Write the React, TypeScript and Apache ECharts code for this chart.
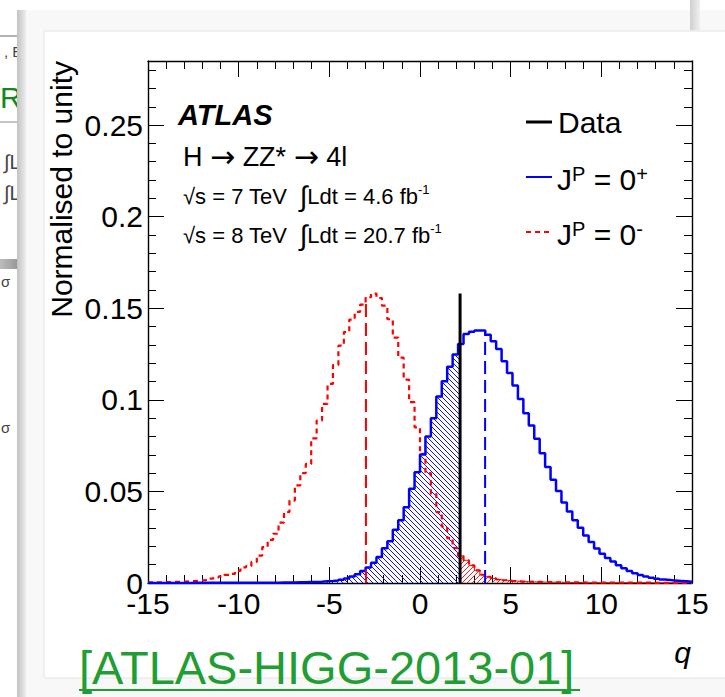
import React, { useEffect, useRef } from 'react';
import * as echarts from 'echarts';

// ---- binning (100 bins of width 0.3 from -15 to 15) ----
const LOW_EDGE = -15;
const HIGH_EDGE = 15;
const BIN_WIDTH = 0.3;

// ---- histogram contents (normalised to unity) ----
const spinPlusValues = [
  0, 0, 0, 0, 0, 0, 0, 0, 0.0001, 0.0001,
  0.0001, 0.0001, 0.0001, 0.0001, 0.0001, 0.0001, 0.0001, 0.0001, 0.0001, 0.0001,
  0.0001, 0.0002, 0.0002, 0.0002, 0.0003, 0.0003, 0.0003, 0.0004, 0.0004, 0.0005,
  0.0006, 0.0007, 0.0009, 0.0011, 0.0014, 0.0018, 0.0025, 0.0035, 0.0048, 0.0065,
  0.0085, 0.0110, 0.0142, 0.0190, 0.0228, 0.0291, 0.0342, 0.0414, 0.0514, 0.0605,
  0.0702, 0.0800, 0.0900, 0.1018, 0.1101, 0.1181, 0.1247, 0.1305, 0.1360, 0.1372,
  0.1378, 0.1378, 0.1356, 0.1320, 0.1278, 0.1211, 0.1147, 0.1078, 0.1005, 0.0927,
  0.0860, 0.0787, 0.0709, 0.0633, 0.0564, 0.0502, 0.0440, 0.0391, 0.0342, 0.0302,
  0.0260, 0.0224, 0.0188, 0.0160, 0.0136, 0.0118, 0.0097, 0.0080, 0.0065, 0.0053,
  0.0043, 0.0035, 0.0028, 0.0023, 0.0019, 0.0016, 0.0013, 0.0011, 0.0009, 0.0007,
];

const spinMinusValues = [
  0.0003, 0.0003, 0.0004, 0.0005, 0.0006, 0.0007, 0.0008, 0.0010, 0.0012, 0.0014,
  0.0017, 0.0024, 0.0030, 0.0036, 0.0044, 0.0050, 0.0066, 0.0085, 0.0092, 0.0115,
  0.0150, 0.0196, 0.0235, 0.0269, 0.0330, 0.0387, 0.0450, 0.0533, 0.0600, 0.0650,
  0.0790, 0.0887, 0.0978, 0.1087, 0.1190, 0.1296, 0.1370, 0.1438, 0.1480, 0.1520,
  0.1560, 0.1580, 0.1556, 0.1514, 0.1440, 0.1340, 0.1230, 0.1110, 0.0987, 0.0850,
  0.0705, 0.0600, 0.0487, 0.0387, 0.0308, 0.0245, 0.0190, 0.0148, 0.0124, 0.0096,
  0.0069, 0.0045, 0.0034, 0.0025, 0.0019, 0.0015, 0.0012, 0.0010, 0.0008, 0.0007,
  0.0006, 0.0006, 0.0005, 0.0005, 0.0004, 0.0004, 0.0003, 0.0003, 0.0003, 0.0003,
  0.0002, 0.0002, 0.0002, 0.0002, 0.0002, 0.0002, 0.0002, 0.0002, 0.0002, 0.0002,
  0.0002, 0.0002, 0.0001, 0.0001, 0.0001, 0.0001, 0.0001, 0.0001, 0.0001, 0.0001,
];

// observed value and medians of the two hypotheses
const DATA_Q = [2.21];
const DATA_HEIGHT = [0.158];
const MEDIAN_PLUS = [3.59];
const MEDIAN_PLUS_HEIGHT = [0.136];
const MEDIAN_MINUS = [-2.98];
const MEDIAN_MINUS_HEIGHT = [0.156];

const X_RANGE = [-15, 15];
const Y_RANGE = [0, 0.285];

const FONT = '"Liberation Sans", Arial, Helvetica, sans-serif';
const SYMBOL_FONT = '"DejaVu Sans", "Liberation Sans", sans-serif';

const edges = spinPlusValues.map((_, k) => +(LOW_EDGE + k * BIN_WIDTH).toFixed(3));

function histPoints(vals: number[]) {
  const pts: number[][] = vals.map((v, k) => [edges[k], v]);
  pts.push([HIGH_EDGE, vals[vals.length - 1]]);
  return pts;
}
function binOf(q: number) {
  return Math.floor((q - LOW_EDGE) / BIN_WIDTH);
}
function leftPart(vals: number[], cut: number) {
  const pts: number[][] = [];
  vals.forEach((v, k) => {
    if (edges[k] < cut) pts.push([edges[k], v]);
  });
  pts.push([cut, vals[binOf(cut)]]);
  return pts;
}
function rightPart(vals: number[], cut: number) {
  const kc = binOf(cut);
  const pts: number[][] = [[cut, vals[kc]]];
  vals.forEach((v, k) => {
    if (k > kc) pts.push([edges[k], v]);
  });
  pts.push([HIGH_EDGE, vals[vals.length - 1]]);
  return pts;
}

function hatch(color: string, backslash: boolean) {
  const size = 5;
  const c = document.createElement('canvas');
  c.width = size;
  c.height = size;
  const ctx = c.getContext('2d')!;
  ctx.strokeStyle = color;
  ctx.lineWidth = 1;
  ctx.beginPath();
  for (const o of [-size, 0, size]) {
    if (backslash) {
      ctx.moveTo(-1, o - 1);
      ctx.lineTo(size + 1, size + o + 1);
    } else {
      ctx.moveTo(-1, size + o + 1);
      ctx.lineTo(size + 1, o - 1);
    }
  }
  ctx.stroke();
  return { image: c.toDataURL(), repeat: 'repeat', imageWidth: size, imageHeight: size };
}

export default function App() {
  const ref = useRef<HTMLDivElement>(null);

  useEffect(() => {
    const el = ref.current!;
    const chart = echarts.init(el, null, { renderer: 'svg' });

    const axisLine = { show: true, onZero: false, lineStyle: { color: '#000', width: 1.4 } };
    const axisTick = { show: true, inside: true, length: 16, lineStyle: { color: '#000', width: 1 } };
    const minorTick = { show: true, splitNumber: 5, length: 8, lineStyle: { color: '#000', width: 1 } };
    const labelStyle = { fontSize: 30, fontFamily: FONT, color: '#000' };

    const xCommon: any = {
      type: 'value', min: X_RANGE[0], max: X_RANGE[1], interval: 5,
      axisLine, axisTick, minorTick, splitLine: { show: false },
    };
    const yCommon: any = {
      type: 'value', min: Y_RANGE[0], max: Y_RANGE[1], interval: 0.05,
      axisLine, axisTick, minorTick, splitLine: { show: false },
    };

    const blueHatch = hatch('#1010ee', true);
    const redHatch = hatch('#ff2020', false);

    const text = (x: number, y: number, t: string, extra: any = {}, more: any = {}) => ({
      type: 'text', x, y, z: 50, silent: true, ...more,
      style: { text: t, fontFamily: FONT, fontSize: 30, fill: '#000', verticalAlign: 'middle', ...extra },
    });

    const supLabel = (x: number, y: number, sup1: string, main: string, sup2: string) => ({
      type: 'text', x, y, z: 50, silent: true,
      style: {
        text: `{a|J}{s|${sup1}}{a|${main}}{s|${sup2}}`,
        verticalAlign: 'middle',
        rich: {
          a: { fontSize: 30, fontFamily: FONT, lineHeight: 30, fill: '#000', color: '#000' },
          s: { fontSize: 20, fontFamily: FONT, lineHeight: 12, verticalAlign: 'top', fill: '#000', color: '#000' },
        },
      },
    });

    const lumiLine = (y: number, energy: string, lumi: string) => ({
      type: 'text', x: 183, y, z: 50, silent: true,
      style: {
        text: `{a|√s = ${energy} TeV  }{i|∫}{a|Ldt = ${lumi} fb}{s|-1}`,
        verticalAlign: 'middle',
        rich: {
          a: { fontSize: 22, fontFamily: FONT, lineHeight: 26, fill: '#000', color: '#000' },
          i: { fontSize: 28, fontFamily: FONT, lineHeight: 26, fill: '#000', color: '#000' },
          s: { fontSize: 13, fontFamily: FONT, lineHeight: 18, verticalAlign: 'top', fill: '#000', color: '#000' },
        },
      },
    });

    const decay = {
      type: 'text', x: 183, y: 156.5, z: 50, silent: true,
      style: {
        text: '{h|H }{r|→}{h| ZZ* }{r|→}{h| 4l}',
        verticalAlign: 'middle',
        rich: {
          h: { fontSize: 27, fontFamily: FONT, lineHeight: 30, fill: '#000', color: '#000' },
          r: { fontSize: 30, fontFamily: SYMBOL_FONT, lineHeight: 30, fill: '#000', color: '#000' },
        },
      },
    };

    const graphic: any[] = [
      // slide background and neighbouring slides
      { type: 'rect', z: -30, silent: true, shape: { x: 0, y: 0, width: 725, height: 697 }, style: { fill: '#ffffff' } },
      { type: 'line', z: -25, silent: true, shape: { x1: 0, y1: 36, x2: 44, y2: 36 }, style: { stroke: '#666', lineWidth: 1 } },
      { type: 'line', z: -25, silent: true, shape: { x1: 0, y1: 122, x2: 44, y2: 122 }, style: { stroke: '#888', lineWidth: 1 } },
      { type: 'text', z: -25, silent: true, x: 4, y: 51, style: { text: ', E', fontFamily: FONT, fontSize: 15, fill: '#444', verticalAlign: 'middle' } },
      { type: 'text', z: -25, silent: true, x: 0, y: 97, style: { text: 'R', fontFamily: FONT, fontSize: 30, fill: '#11881f', verticalAlign: 'middle' } },
      { type: 'text', z: -25, silent: true, x: 4, y: 162, style: { text: '∫L', fontFamily: FONT, fontSize: 20, fill: '#444', verticalAlign: 'middle' } },
      { type: 'text', z: -25, silent: true, x: 4, y: 193, style: { text: '∫L', fontFamily: FONT, fontSize: 20, fill: '#444', verticalAlign: 'middle' } },
      { type: 'rect', z: -25, silent: true, shape: { x: 0, y: 259, width: 24, height: 10 }, style: { fill: new echarts.graphic.LinearGradient(0, 0, 1, 0, [{ offset: 0, color: '#bdbdbd' }, { offset: 1, color: '#8a8a8a' }]) } },
      { type: 'text', z: -25, silent: true, x: 1, y: 281, style: { text: 'σ', fontFamily: FONT, fontSize: 15, fill: '#444', verticalAlign: 'middle' } },
      { type: 'text', z: -25, silent: true, x: 1, y: 427, style: { text: 'σ', fontFamily: FONT, fontSize: 15, fill: '#444', verticalAlign: 'middle' } },
      { type: 'rect', z: -24, silent: true, shape: { x: 17, y: 10, width: 9, height: 687 }, style: { fill: new echarts.graphic.LinearGradient(0, 0, 1, 0, [{ offset: 0, color: '#c2c2c2' }, { offset: 1, color: '#ededed' }]) } },
      { type: 'rect', z: -23, silent: true, shape: { x: 26, y: 10, width: 699, height: 687 }, style: { fill: '#f8f8f8' } },
      { type: 'rect', z: -22, silent: true, shape: { x: 44, y: 31, width: 700, height: 647 }, style: { fill: '#ffffff', stroke: '#e4e4e4', lineWidth: 1 } },
      { type: 'rect', z: -22, silent: true, shape: { x: 690, y: 0, width: 10, height: 30 }, style: { fill: new echarts.graphic.LinearGradient(0, 0, 1, 0, [{ offset: 0, color: '#cfcfcf' }, { offset: 1, color: '#f0f0f0' }]) } },

      // axis titles
      text(61, 61, 'Normalised to unity', { align: 'right' }, { rotation: Math.PI / 2 }),
      text(691, 652, 'q', { align: 'right', fontStyle: 'italic' }),

      // labels
      text(178, 115, 'ATLAS', { fontSize: 29, fontWeight: 'bold', fontStyle: 'italic' }),
      decay,
      lumiLine(196, '7', '4.6'),
      lumiLine(235, '8', '20.7'),

      // legend
      { type: 'line', z: 50, silent: true, shape: { x1: 526, y1: 122, x2: 552, y2: 122 }, style: { stroke: '#000', lineWidth: 3 } },
      text(558, 122.5, 'Data'),
      { type: 'line', z: 50, silent: true, shape: { x1: 526, y1: 177, x2: 552, y2: 177 }, style: { stroke: '#0000ff', lineWidth: 2 } },
      supLabel(557, 179, 'P', ' = 0', '+'),
      { type: 'line', z: 50, silent: true, shape: { x1: 526, y1: 232, x2: 552, y2: 232 }, style: { stroke: '#ff0000', lineWidth: 2, lineDash: [5, 4] } },
      supLabel(557, 234, 'P', ' = 0', '-'),

      // reference link
      text(79, 667, '[ATLAS-HIGG-2013-01]', { fontSize: 47, fill: '#1f9e33' }),
      { type: 'line', z: 50, silent: true, shape: { x1: 79, y1: 690, x2: 580, y2: 690 }, style: { stroke: '#1f9e33', lineWidth: 2 } },
    ];

    const option: any = {
      animation: false,
      backgroundColor: 'transparent',
      grid: { left: 148, top: 61, right: 33, bottom: 114, containLabel: false },
      xAxis: [
        { ...xCommon, position: 'bottom', axisLabel: { ...labelStyle, margin: 5 } },
        { ...xCommon, position: 'top', axisLabel: { show: false } },
      ],
      yAxis: [
        { ...yCommon, position: 'left', axisLabel: { ...labelStyle, margin: 5, showMaxLabel: false } },
        { ...yCommon, position: 'right', axisLabel: { show: false } },
      ],
      graphic,
      series: [
        {
          name: 'JP=0+ below data', type: 'line', step: 'end', symbol: 'none', silent: true,
          data: leftPart(spinPlusValues, DATA_Q[0]), color: '#0000ff',
          lineStyle: { opacity: 0, width: 0 },
          areaStyle: { color: blueHatch, opacity: 1 },
        },
        {
          name: 'JP=0- above data', type: 'line', step: 'end', symbol: 'none', silent: true,
          data: rightPart(spinMinusValues, DATA_Q[0]), color: '#ff0000',
          lineStyle: { color: '#ff0000', width: 1 },
          areaStyle: { color: redHatch, opacity: 1 },
        },
        {
          name: 'JP = 0-', type: 'line', step: 'end', symbol: 'none', silent: true,
          data: histPoints(spinMinusValues), color: '#ff0000',
          lineStyle: { color: '#ff0000', width: 2.2, type: [5, 4] },
        },
        {
          name: 'JP = 0+', type: 'line', step: 'end', symbol: 'none', silent: true,
          data: histPoints(spinPlusValues), color: '#0000ff',
          lineStyle: { color: '#0000ff', width: 2.5 },
        },
        {
          name: 'median 0-', type: 'line', symbol: 'none', silent: true, color: '#ff0000',
          data: [[MEDIAN_MINUS[0], 0], [MEDIAN_MINUS[0], MEDIAN_MINUS_HEIGHT[0]]],
          lineStyle: { color: '#ff0000', width: 2, type: [13, 6] },
        },
        {
          name: 'median 0+', type: 'line', symbol: 'none', silent: true, color: '#0000ff',
          data: [[MEDIAN_PLUS[0], 0], [MEDIAN_PLUS[0], MEDIAN_PLUS_HEIGHT[0]]],
          lineStyle: { color: '#0000ff', width: 2, type: [13, 6] },
        },
        {
          name: 'Data', type: 'line', symbol: 'none', silent: true, color: '#000',
          data: [[DATA_Q[0], 0], [DATA_Q[0], DATA_HEIGHT[0]]],
          lineStyle: { color: '#000', width: 3 },
        },
      ],
    };

    chart.setOption(option);
    return () => chart.dispose();
  }, []);

  return (
    <div
      ref={ref}
      style={{ position: 'fixed', left: 0, top: 0, width: 725, height: 697, background: '#fff' }}
    />
  );
}
